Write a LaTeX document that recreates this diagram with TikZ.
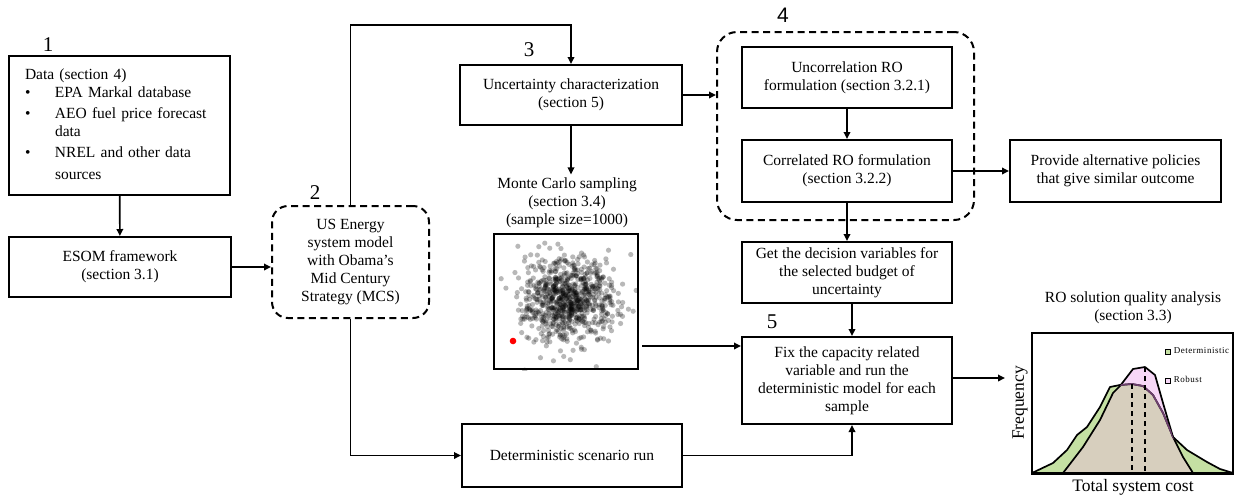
\documentclass[tikz,border=0pt]{standalone}
\usepackage{fontspec}
\setmainfont{Liberation Serif}
\newfontfamily\labelsans{Liberation Sans}
\usetikzlibrary{arrows.meta,calc}

\definecolor{detgreen}{HTML}{C5E0A3}
\definecolor{robpink}{HTML}{F7D7F7}
\definecolor{overlap}{HTML}{D7CFBE}
\definecolor{robline}{HTML}{6E406E}

\newcommand\bodyfont{\fontsize{15.5}{18}\selectfont}
\newcommand\axisfont{\fontsize{17.5}{20}\selectfont}

\tikzset{
  stepbox/.style={draw, line width=2pt, align=center, inner sep=0pt, font=\bodyfont},
  dashgroup/.style={draw, line width=2pt, dash pattern=on 7pt off 4.5pt, rounded corners=16pt, inner sep=0pt},
  arr/.style={line width=1.7pt, -{Triangle[length=7pt,width=6.5pt]}},
  stagenum/.style={font=\fontsize{21}{24}\selectfont, inner sep=0pt},
  plain/.style={font=\bodyfont, align=center},
  legmark/.style={draw, line width=1.1pt, minimum size=5pt, inner sep=0pt},
  legtext/.style={anchor=west, inner sep=0pt, font=\fontsize{9}{10}\selectfont\addfontfeatures{LetterSpace=6}},
}

\begin{document}
\begin{tikzpicture}[x=1pt, y=-1pt]
\useasboundingbox (0,0) rectangle (1244,496);

% ---------- stage 1: data and framework ----------
\node[stepbox, minimum width=221pt, minimum height=139pt, text width=189pt,
      inner xsep=16pt, align=left] (data) at (119.5,125.5)
  {\renewcommand\arraystretch{1.0}%
   \begin{tabular}{@{}p{30pt}@{}l@{}}
   \multicolumn{2}{@{}l@{}}{Data (section 4)}\\
   \textbullet & EPA Markal database\\[3pt]
   \textbullet & AEO fuel price forecast\\
               & data\\[3.5pt]
   \textbullet & NREL and other data\\[3.5pt]
               & sources
   \end{tabular}};
\node[stagenum] (n1) at (48,45) {1};

\node[stepbox, minimum width=222pt, minimum height=60pt] (esom) at (120,267)
  {ESOM framework\\(section 3.1)};

% ---------- stage 2: energy system model ----------
\node[dashgroup, minimum width=157pt, minimum height=112pt, font=\bodyfont, align=center]
  (mcs) at (350.5,262)
  {US Energy\\system model\\with Obama’s\\Mid Century\\Strategy (MCS)};
\node[stagenum] (n2) at (315,193) {2};

% ---------- stage 3: uncertainty ----------
\node[stepbox, minimum width=222pt, minimum height=60pt] (unc) at (571,95)
  {Uncertainty characterization\\(section 5)};
\node[stagenum] (n3) at (529,50) {3};

\node[plain] (mctext) at (567,203)
  {Monte Carlo sampling\\(section 3.4)\\(sample size=1000)};

\node[draw, line width=2pt, minimum width=144pt, minimum height=135pt, inner sep=0pt]
  (scat) at (566,301.5) {};
\begin{scope}
  \clip (scat.south west) rectangle (scat.north east);
  \pgfmathsetseed{4242}
  \foreach \i in {1,...,800}{
    \pgfmathsetmacro\ua{max(rnd,0.0002)}
    \pgfmathsetmacro\rr{21*sqrt(-2*ln(\ua))}
    \pgfmathsetmacro\ang{360*rnd}
    \fill[black, opacity=0.28] ({568+1.05*\rr*cos(\ang)},{300+\rr*sin(\ang)}) circle[radius=2.6pt];
  }
  \fill[red] (513,341) circle[radius=3.3pt];
\end{scope}

% ---------- stage 4: robust optimisation ----------
\node[dashgroup, rounded corners=20pt, minimum width=257pt, minimum height=188pt]
  (ro) at (845.5,126) {};
\node[stagenum, font=\labelsans\fontsize{21}{24}\selectfont] (n4) at (783,15) {4};
\node[stepbox, minimum width=210pt, minimum height=61pt] (ur) at (847,77.5)
  {Uncorrelation RO\\formulation (section 3.2.1)};
\node[stepbox, minimum width=210pt, minimum height=62pt] (cr) at (847,171)
  {Correlated RO formulation\\(section 3.2.2)};
\node[stepbox, minimum width=211pt, minimum height=62pt] (prov) at (1115.5,171)
  {Provide alternative policies\\that give similar outcome};
\node[stepbox, minimum width=210pt, minimum height=61pt] (get) at (847,272.5)
  {Get the decision variables for\\the selected budget of\\uncertainty};

% ---------- stage 5: evaluation ----------
\node[stepbox, minimum width=210pt, minimum height=87pt] (fix) at (847,380.5)
  {Fix the capacity related\\variable and run the\\deterministic model for each\\sample};
\node[stagenum] (n5) at (772,322) {5};
\node[stepbox, minimum width=220pt, minimum height=63pt] (det) at (572,455.5)
  {Deterministic scenario run};

% ---------- quality analysis chart ----------
\node[plain] (ctitle) at (1133,308)
  {\fontsize{15.5}{14.5}\selectfont RO solution quality analysis\\(section 3.3)};
\def\curveA{(1032,473) -- (1053,463) -- (1067,450) -- (1077,435) -- (1087,427) -- (1100,407)
  -- (1110,387) -- (1120,385) -- (1132,384) -- (1143,386) -- (1153,395) -- (1163,413)
  -- (1173,437) -- (1187,450) -- (1207,462) -- (1220,469) -- (1233,473)}
\def\curveB{(1063,473) -- (1083,447) -- (1100,420) -- (1113,393) -- (1120,386) -- (1133,369)
  -- (1145,367) -- (1155,375) -- (1163,403) -- (1173,437) -- (1183,457) -- (1193,473)}
\fill[detgreen] \curveA -- cycle;
\fill[robpink] \curveB -- cycle;
\begin{scope}
  \clip \curveA -- cycle;
  \fill[overlap] \curveB -- cycle;
\end{scope}
\draw[line width=1.7pt, line join=round] \curveA;
\draw[line width=1.7pt, line join=round] \curveB;
\begin{scope}
  \clip \curveB -- cycle;
  \draw[robline, line width=1.7pt, line join=round] \curveA;
\end{scope}
\draw[line width=1.8pt, dash pattern=on 5pt off 4pt] (1132,384) -- (1132,473);
\draw[line width=1.8pt, dash pattern=on 5pt off 4pt] (1145,367) -- (1145,473);

\node[draw, line width=1.7pt, minimum width=201pt, minimum height=140pt, inner sep=0pt]
  (plot) at (1132.5,403) {};
\draw[line width=3pt] (plot.south west) -- (plot.south east);

\node[legmark, fill=detgreen] (legd) at (1168,352) {};
\node[legmark, fill=robpink] (legr) at (1168,381) {};
\begin{scope}
  \clip (plot.south west) rectangle (plot.north east);
  \node[legtext] (legdt) at ([xshift=2.5pt, yshift=1.5pt]legd.east) {Deterministic};
\end{scope}
\node[legtext] (legrt) at ([xshift=2.5pt, yshift=1.5pt]legr.east) {Robust};

\node[font=\axisfont, rotate=90] (freq) at (1020,403) {Frequency};
\node[font=\axisfont] (cost) at (1133,487) {Total system cost};

% ---------- connectors ----------
\coordinate (topbend) at (352,25);
\coordinate (fixin) at ([yshift=-10pt]fix.north west);
\coordinate (scatout) at ([xshift=3pt]scat.east);
\coordinate (chin) at (1005,378);

\draw[arr] (data) -- (esom);
\draw[arr] (esom.east) -- (esom.east -| mcs.west);
\draw[arr] (mcs.north) |- (topbend) -| (unc.north);
\draw[arr] (unc.east) -- (unc.east -| ro.west);
\draw[arr] (unc.south) -- (unc.south |- mctext.north);
\draw[arr] (ur) -- (cr);
\draw[arr] (cr.east) -- (prov.west);
\draw[arr] (cr) -- (get);
\draw[arr] ([xshift=5pt]get.south) -- ([xshift=5pt]fix.north);
\draw[arr] (scatout |- fixin) -- (fixin);
\draw[arr] (mcs.south) |- (det.west);
\draw[arr] (det.east) -| ([xshift=5pt]fix.south);
\draw[arr] (fix.east |- chin) -- (chin);
\end{tikzpicture}
\end{document}
